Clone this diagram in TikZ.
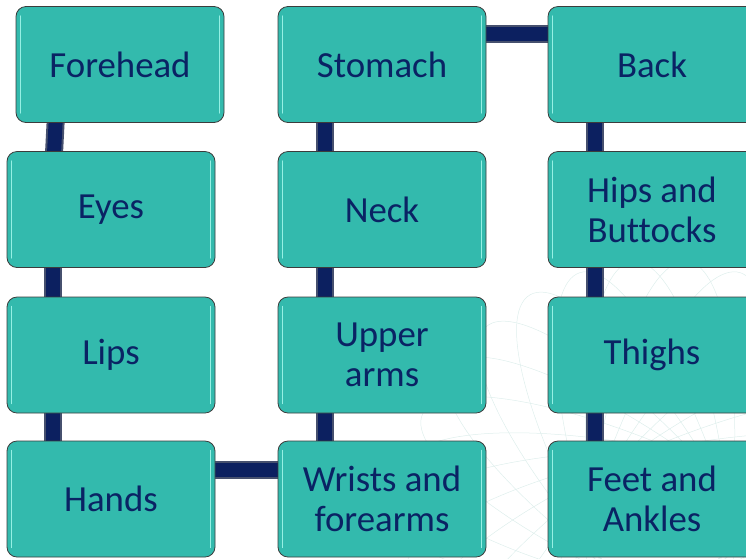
\documentclass[tikz,border=0pt]{standalone}
\usepackage{fontspec}
\setmainfont[Ligatures={NoCommon}]{Carlito}
\definecolor{boxfill}{RGB}{51,186,173}
\definecolor{boxline}{RGB}{60,60,60}
\definecolor{txtnavy}{RGB}{10,35,100}
\definecolor{connavy}{RGB}{12,32,96}
\definecolor{conedge}{RGB}{70,80,110}
\definecolor{hilite}{RGB}{150,240,228}
\definecolor{bgline}{RGB}{222,238,236}
\tikzset{
  bodybox/.style={rectangle, rounded corners=10pt, fill=boxfill, draw=boxline, line width=0.8pt,
    minimum width=208pt, minimum height=116pt, align=center, text=txtnavy,
    font=\fontsize{36.8}{40}\selectfont, inner sep=0pt},
  hl/.style={draw=hilite, line width=1.6pt, line cap=round},
  conn/.style={draw=conedge, line width=18pt, postaction={draw=connavy, line width=14pt}},
  bgell/.style={draw=bgline, line width=0.5pt}
}
\newcommand{\bbox}[4]{%
  \node[bodybox] (#1) at (#2,#3) {#4};
  \draw[hl] ([xshift=5pt,yshift=-10pt]#1.north west) -- ([xshift=5pt,yshift=10pt]#1.south west);
  \draw[hl] ([xshift=-5pt,yshift=-10pt]#1.north east) -- ([xshift=-5pt,yshift=10pt]#1.south east);
}
\begin{document}
\begin{tikzpicture}[x=1pt,y=-1pt]
\useasboundingbox (0,0) rectangle (746,558);
\begin{scope}
  \clip (0,0) rectangle (746,558);
  \foreach \a in {0,12,...,168} {
    \draw[bgell, rotate around={\a:(660,520)}] (660,520) ellipse (260 and 70);
  }
\end{scope}
% invisible anchors for connector placement
\node[bodybox, draw=none, fill=none] (fore0) at (120,64.5) {};
\node[bodybox, draw=none, fill=none] (eyes0) at (111,209.5) {};
\node[bodybox, draw=none, fill=none] (hands0) at (111,499) {};
\node[bodybox, draw=none, fill=none] (wris0) at (382,499) {};
\node[bodybox, draw=none, fill=none] (stom0) at (382,64.5) {};
\node[bodybox, draw=none, fill=none] (back0) at (652,64.5) {};
\node[bodybox, draw=none, fill=none] (feet0) at (652,499) {};
% connectors
\draw[conn] ([xshift=41pt,yshift=20pt]fore0.south west) -- ([xshift=46.5pt,yshift=-20pt]eyes0.north west);
\draw[conn] ([xshift=46.5pt]eyes0.center -| eyes0.west) -- ([xshift=46.5pt]hands0.center -| hands0.west);
\draw[conn] ([yshift=29pt]hands0.center) -- ([yshift=29pt]wris0.center);
\draw[conn] ([xshift=47pt]wris0.center -| wris0.west) -- ([xshift=47pt]stom0.center -| stom0.west);
\draw[conn] ([yshift=30.5pt]stom0.center) -- ([yshift=30.5pt]back0.center);
\draw[conn] ([xshift=47pt]back0.center -| back0.west) -- ([xshift=47pt]feet0.center -| feet0.west);
% boxes
\bbox{fore}{120}{64.5}{Forehead}
\bbox{eyes}{111}{209.5}{Eyes}
\bbox{lips}{111}{355}{Lips}
\bbox{hands}{111}{499}{Hands}
\bbox{stom}{382}{64.5}{Stomach}
\bbox{neck}{382}{209.5}{Neck}
\bbox{upper}{382}{355}{Upper\\arms}
\bbox{wris}{382}{499}{Wrists and\\forearms}
\bbox{back}{652}{64.5}{Back}
\bbox{hips}{652}{209.5}{Hips and\\Buttocks}
\bbox{thigh}{652}{355}{Thighs}
\bbox{feet}{652}{499}{Feet and\\Ankles}
\end{tikzpicture}
\end{document}
